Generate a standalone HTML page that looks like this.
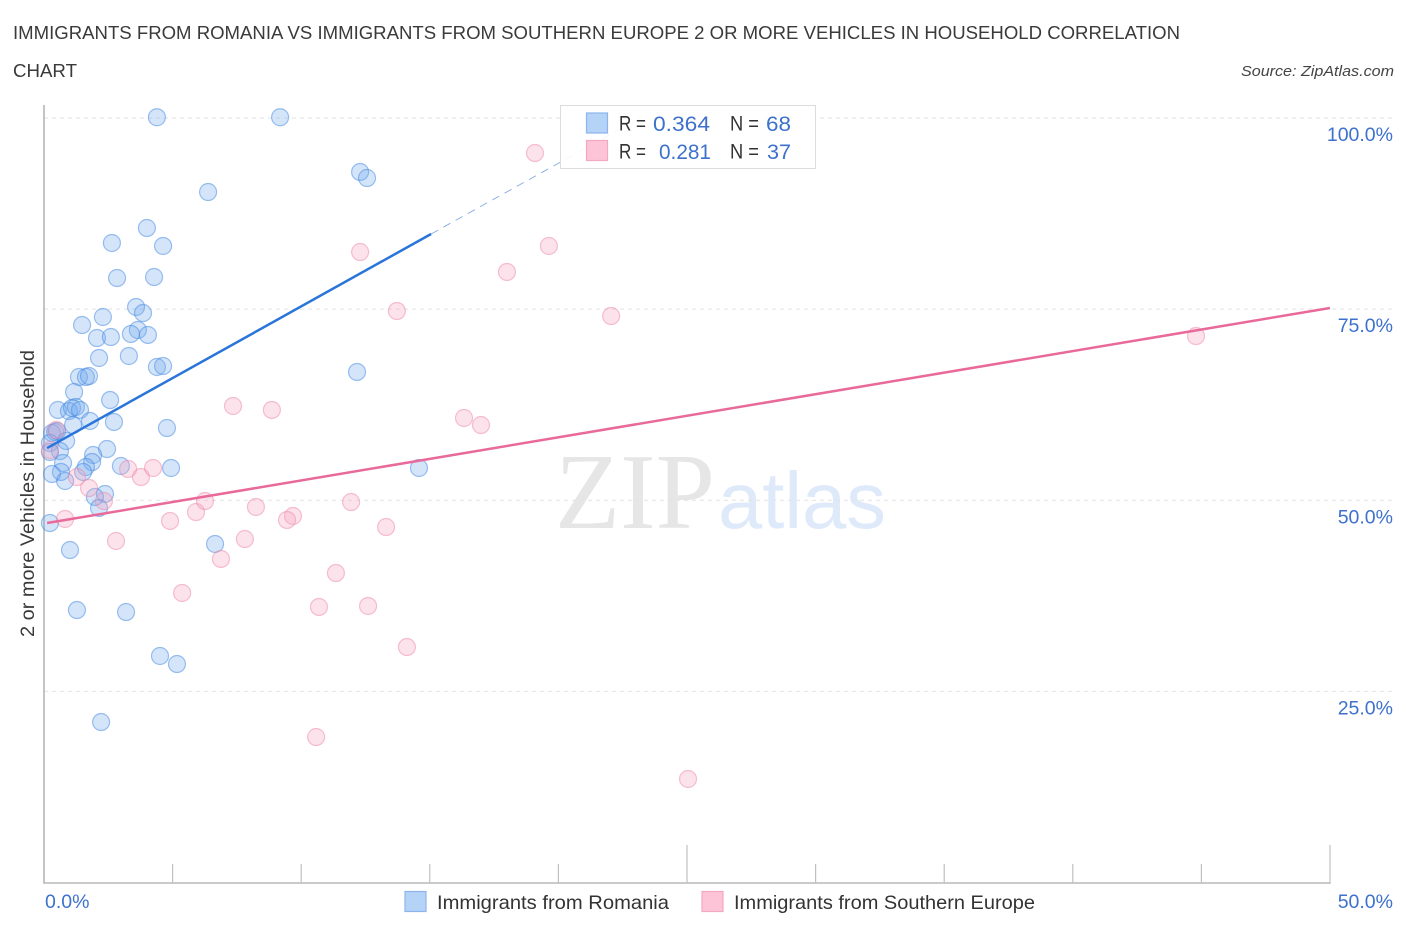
<!DOCTYPE html>
<html lang="en">
<head>
<meta charset="utf-8">
<title>Immigrants from Romania vs Immigrants from Southern Europe Correlation Chart</title>
<style>
html,body{margin:0;padding:0;background:#fff;}
svg{display:block;font-family:"Liberation Sans",sans-serif;}
</style>
</head>
<body>
<svg id="chart" xmlns="http://www.w3.org/2000/svg" width="1406" height="930" viewBox="0 0 1406 930">
  <rect x="0" y="0" width="1406" height="930" fill="#fff"/>
  <g fill="#3a3a3a" font-size="18.5">
    <text x="13" y="39" textLength="1167" lengthAdjust="spacingAndGlyphs">IMMIGRANTS FROM ROMANIA VS IMMIGRANTS FROM SOUTHERN EUROPE 2 OR MORE VEHICLES IN HOUSEHOLD CORRELATION</text>
    <text x="13" y="77" textLength="64" lengthAdjust="spacingAndGlyphs">CHART</text>
  </g>
  <text x="1241" y="76" font-size="15" font-style="italic" fill="#444" textLength="153" lengthAdjust="spacingAndGlyphs">Source: ZipAtlas.com</text>
  <g>
    <text x="555" y="528" font-family="'Liberation Serif',serif" font-size="108" fill="#e6e6e6" textLength="160" lengthAdjust="spacingAndGlyphs">ZIP</text>
    <text x="718" y="528" font-size="80" fill="#deeafa" textLength="168" lengthAdjust="spacingAndGlyphs">atlas</text>
  </g>
  <g id="grid"></g>
  <g id="axes"></g>
  <g id="points-blue"></g>
  <g id="points-pink"></g>
  <g id="trends"></g>
  <g id="tick-labels" fill="#3d71cc" font-size="19.5"></g>
  <text transform="translate(34 637) rotate(-90)" x="0" y="0" font-size="19" fill="#3a3a3a" textLength="287" lengthAdjust="spacingAndGlyphs">2 or more Vehicles in Household</text>

  <g>
    <rect x="560.5" y="105.5" width="255" height="63" fill="#fff" fill-opacity="0.9" stroke="#dcdcdc" stroke-width="1"/>
    <rect x="586.5" y="113" width="21" height="20" fill="#b5d2f7" stroke="#8db5ec" stroke-width="1.2"/>
    <rect x="586.5" y="140.5" width="21" height="20" fill="#fcc4d6" stroke="#f2a8c1" stroke-width="1.2"/>
    <g font-size="21" fill="#333">
      <text x="619" y="130.5" textLength="27" lengthAdjust="spacingAndGlyphs">R =</text>
      <text x="730" y="130.5" textLength="29" lengthAdjust="spacingAndGlyphs">N =</text>
      <text x="619" y="158.5" textLength="27" lengthAdjust="spacingAndGlyphs">R =</text>
      <text x="730" y="158.5" textLength="29" lengthAdjust="spacingAndGlyphs">N =</text>
    </g>
    <g font-size="21" fill="#3d71cc">
      <text x="653" y="131" textLength="57" lengthAdjust="spacingAndGlyphs">0.364</text>
      <text x="766" y="131" textLength="25" lengthAdjust="spacingAndGlyphs">68</text>
      <text x="659" y="159" textLength="52" lengthAdjust="spacingAndGlyphs">0.281</text>
      <text x="767" y="159" textLength="24" lengthAdjust="spacingAndGlyphs">37</text>
    </g>
  </g>

  <g>
    <g>
      <rect x="405" y="891.5" width="21" height="20" fill="#b5d2f7" stroke="#8db5ec" stroke-width="1.2"/>
      <text x="437" y="909" font-size="19.5" fill="#333" textLength="232" lengthAdjust="spacingAndGlyphs">Immigrants from Romania</text>
    </g>
    <g>
      <rect x="702" y="891.5" width="21" height="20" fill="#fcc4d6" stroke="#f2a8c1" stroke-width="1.2"/>
      <text x="734" y="909" font-size="19.5" fill="#333" textLength="301" lengthAdjust="spacingAndGlyphs">Immigrants from Southern Europe</text>
    </g>
  </g>
</svg>
<script>
// Romania series: x % and y %
const romaniaX = [4.39,9.18,12.29,12.56,6.38,4.00,2.64,4.63,2.84,4.28,3.58,3.85,2.29,1.48,3.65,3.38,4.04,2.06,2.60,3.30,2.14,4.39,4.63,12.17,1.36,1.63,1.75,1.17,2.57,0.54,0.97,1.09,1.24,1.40,1.79,2.72,1.13,4.78,0.43,0.31,0.51,0.86,0.23,2.45,0.62,0.23,1.91,0.74,1.87,1.63,2.99,4.94,14.58,1.52,0.66,0.31,0.82,2.37,1.98,2.14,0.23,1.01,6.65,1.28,3.19,4.51,5.17,2.22];
const romaniaY = [100.1,100.1,92.94,92.15,90.32,85.61,83.65,83.26,79.07,79.20,75.28,74.49,73.97,72.92,72.27,71.75,71.62,71.22,71.35,68.87,68.61,67.43,67.56,66.78,66.12,66.12,66.25,64.16,63.11,61.81,61.67,62.07,62.20,61.81,60.37,60.24,59.84,59.45,58.93,58.80,59.06,57.75,57.49,56.70,56.44,56.31,55.92,54.87,55.00,54.35,54.48,54.22,54.22,53.70,53.70,53.43,52.52,50.82,50.43,48.99,47.02,43.49,44.28,35.64,35.38,29.63,28.58,20.99];
// Southern Europe series: x % and y %
const europeX = [0.47,0.23,1.28,1.75,3.27,3.77,4.24,2.33,0.82,2.80,4.90,5.91,6.26,6.88,7.35,7.81,19.09,12.29,19.63,18.00,13.72,22.05,44.79,8.86,16.33,16.99,11.94,8.24,9.68,9.45,13.30,5.37,11.35,10.69,12.60,14.11,10.58,25.04];
const europeY = [59.19,56.57,53.04,51.60,54.09,53.04,54.22,49.90,47.55,44.67,47.29,48.46,49.90,42.32,62.33,44.93,95.42,82.47,83.26,79.86,74.75,74.10,71.48,61.81,60.76,59.84,49.77,49.12,47.94,47.42,46.50,37.87,40.48,36.04,36.17,30.80,19.03,13.54];
// Trend line end points (x %, y %)
const romaniaTrendX = [0.12,15.05];
const romaniaTrendY = [56.83,84.83];
const romaniaDashX = [15.05,23.17];
const romaniaDashY = [84.83,100];
const europeTrendX = [0.12,50];
const europeTrendY = [47.02,75.15];
// Axis ticks
const yGridValues = [25,50,75,100];
const yTickLabels = ["25.0%","50.0%","75.0%","100.0%"];
const xTickValues = [5,10,15,20,25,30,35,40,45,50];
const xMajorTicks = [25,50];
const xEndLabels = ["0.0%","50.0%"];
const xEndValues = [0,50];

const X0 = 44, X1 = 1330, Y0 = 882.5, Y100 = 118;
function xScale(v){ return X0 + (X1 - X0) * v / 50; }
function yScale(v){ return Y0 - (Y0 - Y100) * v / 100; }
const NS = "http://www.w3.org/2000/svg";
function make(tag, parent, attrs){
  const el = document.createElementNS(NS, tag);
  for (const k in attrs) el.setAttribute(k, attrs[k]);
  parent.appendChild(el);
  return el;
}

const gridG = document.getElementById("grid");
yGridValues.forEach(function(v){
  const el = make("line", gridG, {x1:X0, x2:1395, y1:yScale(v), y2:yScale(v), stroke:"#e2e2e2", "stroke-width":1, "stroke-dasharray":"4 4"});
  
  
});

const axesG = document.getElementById("axes");
const yAxis = make("line", axesG, {x1:X0, x2:X0, y1:105, y2:883.5, stroke:"#b0b0b0", "stroke-width":1.5});


const xAxis = make("line", axesG, {x1:X0 - 0.75, x2:X1 + 0.75, y1:883, y2:883, stroke:"#b8b8b8", "stroke-width":1.5});


xTickValues.forEach(function(v){
  const top = xMajorTicks.indexOf(v) >= 0 ? 845 : 864;
  const el = make("line", axesG, {x1:xScale(v), x2:xScale(v), y1:top, y2:883, stroke:"#c0c0c0", "stroke-width":1.2});
  
  
});

function drawPoints(groupId, xs, ys, fill, stroke, name){
  const g = document.getElementById(groupId);
  xs.forEach(function(x, i){
    const el = make("circle", g, {cx:xScale(x), cy:yScale(ys[i]), r:8.5, fill:fill, "fill-opacity":0.3, stroke:stroke, "stroke-opacity":0.5, "stroke-width":1.2});
    
    
  });
}
drawPoints("points-blue", romaniaX, romaniaY, "#72a9ee", "#3f86e0", "romania-point");
drawPoints("points-pink", europeX, europeY, "#f6a2bd", "#ee86a8", "southern-europe-point");

const trendG = document.getElementById("trends");
const trendBlue = make("line", trendG, {x1:xScale(romaniaTrendX[0]), y1:yScale(romaniaTrendY[0]), x2:xScale(romaniaTrendX[1]), y2:yScale(romaniaTrendY[1]), stroke:"#2a75d9", "stroke-width":2.5});


const trendDash = make("line", trendG, {x1:xScale(romaniaDashX[0]), y1:yScale(romaniaDashY[0]), x2:xScale(romaniaDashX[1]), y2:yScale(romaniaDashY[1]), stroke:"#5a8fd8", "stroke-opacity":0.75, "stroke-width":0.9, "stroke-dasharray":"8 6"});


const trendPink = make("line", trendG, {x1:xScale(europeTrendX[0]), y1:yScale(europeTrendY[0]), x2:xScale(europeTrendX[1]), y2:yScale(europeTrendY[1]), stroke:"#e9699a", "stroke-width":2.5});



const labelsG = document.getElementById("tick-labels");
yGridValues.forEach(function(v, i){
  const el = make("text", labelsG, {x:1393, y:yScale(v) + 23, "text-anchor":"end"});
  el.textContent = yTickLabels[i];
  
  
});
xEndValues.forEach(function(v, i){
  const el = make("text", labelsG, i === 0 ? {x:xScale(v) + 1, y:908} : {x:1393, y:908, "text-anchor":"end"});
  el.textContent = xEndLabels[i];
  
  
});
</script>
</body>
</html>
